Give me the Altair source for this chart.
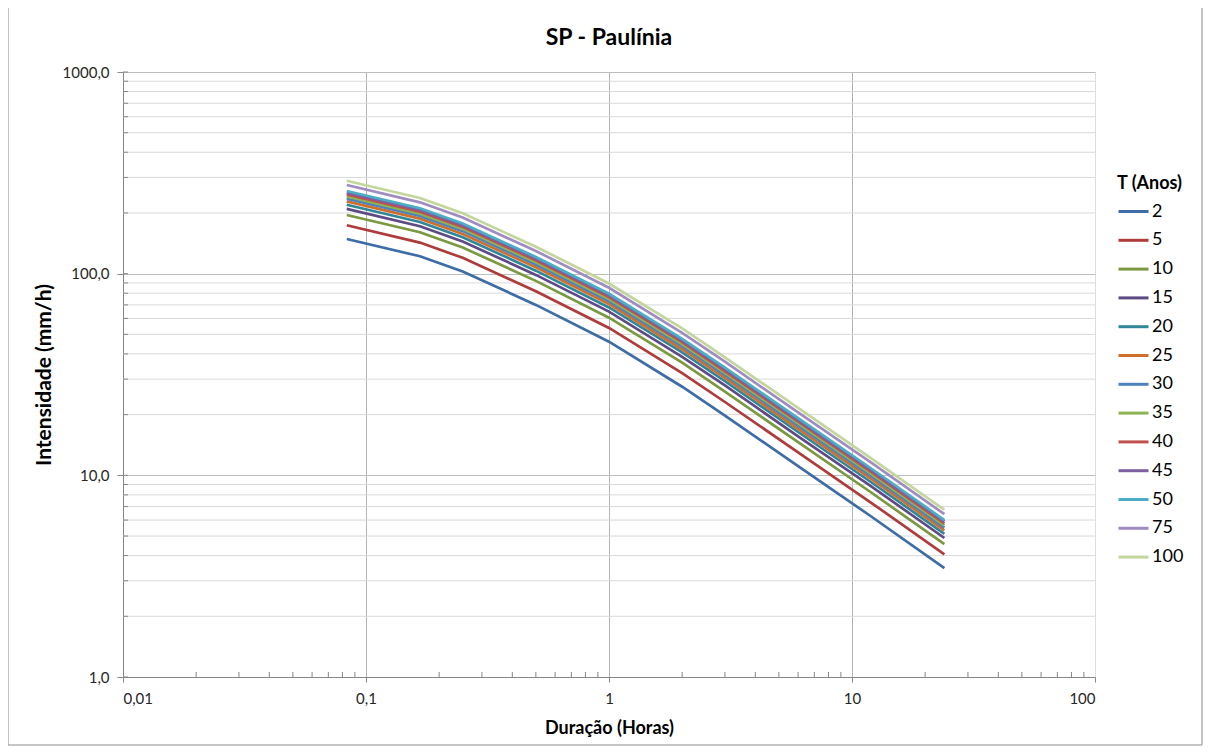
import altair as alt
import pandas as pd

# Durations (hours)
durations = [5/60, 10/60, 15/60, 0.5, 1, 2, 3, 6, 12, 24]

# Return periods (years)
periods = ["2", "5", "10", "15", "20", "25", "30", "35", "40", "45", "50", "75", "100"]

# Intensities (mm/h), one list per return period
i_2 = [148.6, 122.0, 102.5, 70.0, 46.0, 27.5, 19.8, 11.1, 6.25, 3.47]
i_5 = [173.7, 142.6, 119.8, 81.8, 53.8, 32.1, 23.1, 13.0, 7.31, 4.06]
i_10 = [195.4, 160.4, 134.8, 92.1, 60.5, 36.2, 26.0, 14.6, 8.22, 4.56]
i_15 = [209.4, 171.9, 144.4, 98.6, 64.8, 38.7, 27.9, 15.6, 8.81, 4.89]
i_20 = [219.8, 180.4, 151.6, 103.5, 68.0, 40.7, 29.3, 16.4, 9.24, 5.13]
i_25 = [228.2, 187.4, 157.4, 107.5, 70.7, 42.2, 30.4, 17.0, 9.60, 5.33]
i_30 = [235.5, 193.4, 162.5, 111.0, 72.9, 43.6, 31.4, 17.6, 9.91, 5.50]
i_35 = [241.8, 198.5, 166.8, 113.9, 74.8, 44.7, 32.2, 18.1, 10.17, 5.65]
i_40 = [247.3, 203.0, 170.6, 116.5, 76.5, 45.8, 32.9, 18.5, 10.40, 5.77]
i_45 = [252.3, 207.2, 174.0, 118.9, 78.1, 46.7, 33.6, 18.8, 10.61, 5.89]
i_50 = [256.9, 210.9, 177.2, 121.0, 79.5, 47.5, 34.2, 19.2, 10.81, 6.00]
i_75 = [275.1, 225.8, 189.7, 129.6, 85.1, 50.9, 36.6, 20.5, 11.57, 6.42]
i_100 = [288.9, 237.2, 199.3, 136.1, 89.4, 53.5, 38.5, 21.6, 12.15, 6.75]

series = [i_2, i_5, i_10, i_15, i_20, i_25, i_30, i_35, i_40, i_45, i_50, i_75, i_100]

colors = ["#3D6CA6", "#AD3C3A", "#7A9940", "#5E4A85", "#2F8799", "#D06F2A",
          "#4F81BD", "#8DB452", "#C0504D", "#7D60A0", "#4BACC6", "#A08CC0", "#C3D69B"]

chart_title = "SP - Paulínia"

x_major = [0.01, 0.1, 1, 10, 100]
y_major = [1, 10, 100, 1000]
x_minor = [m * d for d in [0.01, 0.1, 1, 10] for m in range(2, 10)]
y_minor = [m * d for d in [1, 10, 100] for m in range(2, 10)]

rows = []
for p, vals in zip(periods, series):
    for k, (d, v) in enumerate(zip(durations, vals)):
        rows.append({"Duracao": d, "Intensidade": v, "T": p, "k": k})
df = pd.DataFrame(rows)

FONT = "Lato"
W, H = 972, 605

xscale = alt.Scale(type="log", domain=[0.01, 100], nice=False)
yscale = alt.Scale(type="log", domain=[1, 1000], nice=False)

border = alt.Chart(pd.DataFrame({"a": [0]})).mark_rect(
    fillOpacity=0, stroke="#8C8C8C", strokeWidth=1
).encode(
    x=alt.value(-115), x2=alt.value(1079), y=alt.value(-66), y2=alt.value(673)
)

title_text = alt.Chart(pd.DataFrame({"t": [chart_title]})).mark_text(
    font=FONT, fontSize=23, fontWeight="bold", color="#000000",
    align="center", baseline="middle"
).encode(text="t:N", x=alt.value(W / 2), y=alt.value(-34))

minor_grid = alt.Chart(pd.DataFrame({"Intensidade": y_minor})).mark_rule(
    color="#D9D9D9", strokeWidth=1
).encode(y=alt.Y("Intensidade:Q", scale=yscale))

y_inner_ticks = alt.Chart(pd.DataFrame({"Intensidade": y_minor + y_major})).mark_rule(
    color="#868686", strokeWidth=1
).encode(y=alt.Y("Intensidade:Q", scale=yscale), x=alt.value(0), x2=alt.value(5))

x_inner_ticks = alt.Chart(pd.DataFrame({"Duracao": x_minor})).mark_rule(
    color="#868686", strokeWidth=1
).encode(x=alt.X("Duracao:Q", scale=xscale), y=alt.value(H), y2=alt.value(H - 5))

lines = alt.Chart(df).mark_line(strokeWidth=2.7).encode(
    x=alt.X(
        "Duracao:Q",
        scale=xscale,
        axis=alt.Axis(
            title="Duração (Horas)",
            values=x_major,
            labelExpr="replace(format(datum.value, '~g'), '.', ',')",
            grid=True,
            gridColor="#B4B4B4",
            gridOpacity={"condition": {"test": "datum.value === 100", "value": 0}, "value": 1},
            domainColor="#868686",
            tickColor="#868686",
            tickSize=5,
            labelFont=FONT,
            labelFontSize=15,
            labelColor="#262626",
            labelPadding=9,
            titleFont=FONT,
            titleFontSize=18,
            titleFontWeight="bold",
            titleColor="#000000",
            titlePadding=13,
        ),
    ),
    y=alt.Y(
        "Intensidade:Q",
        scale=yscale,
        axis=alt.Axis(
            title="Intensidade (mm/h)",
            values=y_major,
            labelExpr="replace(format(datum.value, '.1f'), '.', ',')",
            grid=True,
            gridColor="#BDBDBD",
            domainColor="#868686",
            tickColor="#868686",
            tickSize=6,
            labelFont=FONT,
            labelFontSize=15,
            labelColor="#262626",
            labelPadding=8,
            titleFont=FONT,
            titleFontSize=21,
            titleFontWeight="bold",
            titleColor="#000000",
            titlePadding=8,
        ),
    ),
    color=alt.Color(
        "T:N",
        sort=periods,
        scale=alt.Scale(domain=periods, range=colors),
        legend=alt.Legend(
            title="T (Anos)",
            orient="none",
            legendX=994,
            legendY=103,
            symbolType="stroke",
            symbolSize=900,
            symbolStrokeWidth=3,
            rowPadding=2.8,
            labelOffset=2,
            labelFont=FONT,
            labelFontSize=18,
            labelColor="#000000",
            titleFont=FONT,
            titleFontSize=18,
            titleFontWeight="bold",
            titleColor="#000000",
            titlePadding=2,
        ),
    ),
    order=alt.Order("k:Q"),
)

chart = alt.layer(border, title_text, minor_grid, y_inner_ticks, x_inner_ticks, lines).properties(
    width=W,
    height=H,
    padding={"left": 115, "top": 64, "right": 108, "bottom": 70},
    autosize=alt.AutoSizeParams(type="none"),
).configure_view(stroke=None).configure(background="white")

chart.save("out.html", embed_options={"renderer": "svg", "actions": False})
